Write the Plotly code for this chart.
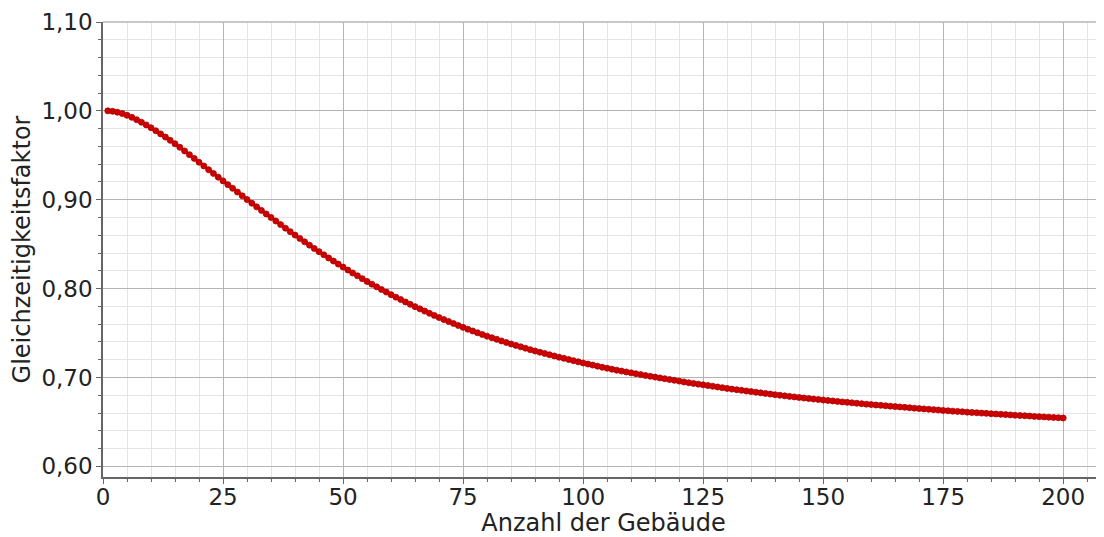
import plotly.graph_objects as go

anzahl = list(range(1, 201))
faktor = [
    1.0000, 0.9995, 0.9985, 0.9970, 0.9950, 0.9927, 0.9901, 0.9872, 0.9842, 0.9810,
    0.9776, 0.9741, 0.9705, 0.9668, 0.9630, 0.9590, 0.9549, 0.9507, 0.9465, 0.9422,
    0.9380, 0.9338, 0.9296, 0.9254, 0.9212, 0.9170, 0.9128, 0.9086, 0.9044, 0.9002,
    0.8961, 0.8920, 0.8880, 0.8840, 0.8800, 0.8760, 0.8720, 0.8680, 0.8641, 0.8602,
    0.8564, 0.8526, 0.8489, 0.8452, 0.8416, 0.8380, 0.8345, 0.8310, 0.8276, 0.8242,
    0.8209, 0.8176, 0.8144, 0.8112, 0.8080, 0.8050, 0.8020, 0.7990, 0.7961, 0.7932,
    0.7904, 0.7877, 0.7850, 0.7823, 0.7797, 0.7772, 0.7747, 0.7722, 0.7698, 0.7674,
    0.7651, 0.7629, 0.7607, 0.7585, 0.7564, 0.7543, 0.7523, 0.7503, 0.7484, 0.7465,
    0.7447, 0.7429, 0.7411, 0.7394, 0.7377, 0.7361, 0.7345, 0.7329, 0.7313, 0.7298,
    0.7284, 0.7270, 0.7256, 0.7242, 0.7228, 0.7215, 0.7202, 0.7189, 0.7176, 0.7163,
    0.7151, 0.7139, 0.7127, 0.7115, 0.7104, 0.7093, 0.7082, 0.7072, 0.7062, 0.7052,
    0.7042, 0.7032, 0.7022, 0.7013, 0.7004, 0.6995, 0.6986, 0.6977, 0.6968, 0.6959,
    0.6950, 0.6941, 0.6933, 0.6925, 0.6917, 0.6909, 0.6901, 0.6893, 0.6885, 0.6877,
    0.6869, 0.6862, 0.6855, 0.6848, 0.6841, 0.6834, 0.6827, 0.6820, 0.6813, 0.6806,
    0.6800, 0.6793, 0.6787, 0.6781, 0.6775, 0.6769, 0.6763, 0.6757, 0.6752, 0.6746,
    0.6741, 0.6736, 0.6730, 0.6725, 0.6720, 0.6715, 0.6710, 0.6705, 0.6700, 0.6695,
    0.6690, 0.6686, 0.6681, 0.6677, 0.6672, 0.6668, 0.6664, 0.6659, 0.6655, 0.6650,
    0.6646, 0.6642, 0.6638, 0.6634, 0.6629, 0.6625, 0.6621, 0.6618, 0.6614, 0.6610,
    0.6606, 0.6603, 0.6599, 0.6596, 0.6592, 0.6589, 0.6585, 0.6582, 0.6579, 0.6575,
    0.6572, 0.6569, 0.6566, 0.6562, 0.6559, 0.6556, 0.6553, 0.6550, 0.6547, 0.6544,
]

x_title = "Anzahl der Gebäude"
y_title = "Gleichzeitigkeitsfaktor"

FONT = "DejaVu Sans"
TXT = "#222222"

fig = go.Figure()
fig.add_trace(go.Scatter(
    x=anzahl, y=faktor, mode="lines+markers",
    line=dict(color="#cc0000", width=2.5),
    marker=dict(color="#d00000", size=6, line=dict(color="#a80000", width=0.8)),
    showlegend=False, hoverinfo="x+y",
))

# page body has an 8px default margin, so the figure is 8px smaller and offset
fig.update_layout(
    width=1096, height=529,
    margin=dict(l=95, r=0, t=14, b=60, autoexpand=False),
    paper_bgcolor="white", plot_bgcolor="white",
    separators=",.",
    font=dict(family=FONT, size=23, color=TXT),
    xaxis=dict(
        range=[0, 208.5], tick0=0, dtick=25, tickformat="d",
        automargin=True,
        showgrid=True, gridcolor="#b4b4b4", gridwidth=1,
        showline=True, linecolor="#666666", linewidth=1.5,
        ticks="outside", ticklen=5, tickcolor="#666666",
        zeroline=False,
        minor=dict(dtick=5, showgrid=True, gridcolor="#e4e4e4", gridwidth=1,
                   ticks="outside", ticklen=3, tickcolor="#666666"),
        tickfont=dict(family=FONT, size=23, color=TXT),
        ticklabelstandoff=-6,
        title=dict(text=x_title, font=dict(family=FONT, size=24, color=TXT), standoff=2),
    ),
    yaxis=dict(
        range=[0.588, 1.10], tick0=0, dtick=0.1, tickformat=".2f",
        automargin=True,
        showgrid=True, gridcolor="#b4b4b4", gridwidth=1,
        showline=True, linecolor="#666666", linewidth=1.5,
        ticks="outside", ticklen=5, tickcolor="#666666",
        zeroline=False,
        minor=dict(dtick=0.02, showgrid=True, gridcolor="#e4e4e4", gridwidth=1,
                   ticks="outside", ticklen=3, tickcolor="#666666"),
        tickfont=dict(family=FONT, size=23, color=TXT),
        ticklabelstandoff=-1,
        title=dict(text=y_title, font=dict(family=FONT, size=24, color=TXT), standoff=5),
    ),
    shapes=[dict(type="line", xref="paper", yref="paper", x0=0, x1=1, y0=1, y1=1,
                 line=dict(color="#b4b4b4", width=1.5))],
)

fig.write_html("out.html")
